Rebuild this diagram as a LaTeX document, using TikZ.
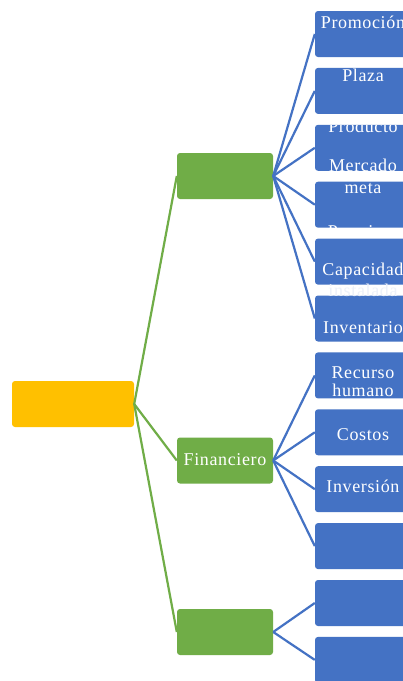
\documentclass[tikz,border=0pt]{standalone}
\usepackage{fontspec}
\setmainfont{Liberation Serif}[LetterSpace=3.5]
\definecolor{rootc}{HTML}{FFC000}
\definecolor{grn}{HTML}{70AD47}
\definecolor{blu}{HTML}{4472C4}
\definecolor{faint}{HTML}{EDF1F9}
\newcommand\boxtxt[5]{%
  \begin{scope}
    \clip[rounded corners=3pt] (#1.south west) rectangle (#1.north east);
    \node[txt, anchor=base] (#2) at (#3,#4) {#5};
  \end{scope}}
\begin{document}
\begin{tikzpicture}[x=1pt,y=-1pt,
  box/.style={rounded corners=3pt, minimum height=46pt, inner sep=0pt, draw=none},
  lvl3/.style={box, fill=blu, minimum width=96pt},
  lvl2/.style={box, fill=grn, minimum width=96pt},
  gline/.style={draw=grn, line width=2.2pt},
  bline/.style={draw=blu, line width=2.2pt},
  txt/.style={text=white, inner sep=0pt, font=\fontsize{18}{21}\selectfont}]
\clip (0,0) rectangle (403,681);
\fill[white] (0,0) rectangle (403,681);
% root
\node[box, fill=rootc, minimum width=122pt] (root) at (73,404) {};
% level 2
\node[lvl2] (m1) at (225,176) {};
\node[lvl2] (m2) at (225,460.5) {};
\node[lvl2] (m3) at (225,632) {};
% level 3
\foreach \k in {0,...,11}{
  \node[lvl3] (c\k) at (363,{34+56.9*\k}) {};
}
% connectors
\draw[gline] (root.east) -- (m1.west);
\draw[gline] (root.east) -- (m2.west);
\draw[gline] (root.east) -- (m3.west);
\foreach \k in {0,...,5}{ \draw[bline] (m1.east) -- (c\k.west); }
\foreach \k in {6,...,9}{ \draw[bline] (m2.east) -- (c\k.west); }
\foreach \k in {10,11}{ \draw[bline] (m3.east) -- (c\k.west); }
% texts
\boxtxt{m2}{tfin}{225}{465}{Financiero}
\boxtxt{c0}{t0}{363}{28}{Promoción}
\boxtxt{c1}{t1}{363}{81}{Plaza}
\boxtxt{c2}{t2a}{363}{132}{Producto}
\boxtxt{c2}{t2b}{363}{171}{Mercado}
\boxtxt{c3}{t3a}{363}{193}{meta}
\boxtxt{c3}{t3b}{363}{237.5}{Permisos}
\boxtxt{c4}{t4}{363}{275}{Capacidad}
\node[txt, text=faint, anchor=base] (t4b) at (363,296) {instalada};
\boxtxt{c5}{t5}{363}{333}{Inventario}
\boxtxt{c6}{t6a}{363}{378}{Recurso}
\boxtxt{c6}{t6b}{363}{396}{humano}
\boxtxt{c7}{t7}{363}{440}{Costos}
\boxtxt{c8}{t8}{363}{492}{Inversión}
\end{tikzpicture}
\end{document}
